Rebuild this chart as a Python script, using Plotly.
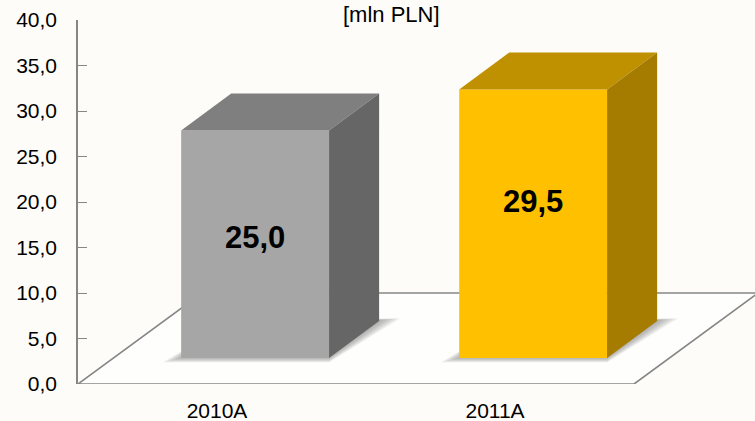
import plotly.graph_objects as go

categories = ["2010A", "2011A"]
values = [25.0, 29.5]
front_colors = ["#A6A6A6", "#FFC000"]
top_colors = ["#7F7F7F", "#BF9000"]
side_colors = ["#666666", "#A67C00"]
y_ticks = [0, 5, 10, 15, 20, 25, 30, 35, 40]
label_heights = [15.8, 19.7]

# geometry of the fake 3-D box, in axis units
BAR_W = 0.532
BAR_OFF = 0.137
BASE = 2.86
DX, DY = 0.18, 4.07
FLOOR_DX, FLOOR_DY = 0.446, 10.0
GREY = "#868686"

cat_x = list(range(len(categories)))
fig = go.Figure()

fig.add_bar(x=[c + BAR_OFF for c in cat_x], y=values, base=BASE, width=BAR_W,
            marker=dict(color=front_colors, line_width=0), showlegend=False, hoverinfo="skip")

def poly(xs, ys, color):
    fig.add_scatter(x=xs + xs[:1], y=ys + ys[:1], mode="lines", fill="toself",
                    fillcolor=color, line=dict(width=0), showlegend=False, hoverinfo="skip")

shapes = []
def path(xs, ys):
    return "M" + "L".join(f"{x:.4f},{y:.4f}" for x, y in zip(xs, ys)) + "Z"

# floor
fx = [-0.5, 1.5, 1.5 + FLOOR_DX, -0.5 + FLOOR_DX]
fy = [0, 0, FLOOR_DY, FLOOR_DY]
shapes.append(dict(type="path", path=path(fx, fy), xref="x", yref="y", layer="below",
                   fillcolor="#FEFEFC", line=dict(color=GREY, width=1.6)))

for c, v, tc, sc in zip(cat_x, values, top_colors, side_colors):
    l = c + BAR_OFF - BAR_W / 2
    r = c + BAR_OFF + BAR_W / 2
    t = BASE + v
    # soft floor shadow: layered translucent parallelograms
    for i in range(10):
        g = i * 0.0075
        h = i * 0.055
        sx = [l - g, r, r + DX + 0.01 + g, l + DX]
        sy = [BASE - h, BASE - h, BASE + DY + 0.1 + h * 0.4, BASE + DY]
        shapes.append(dict(type="path", path=path(sx, sy), xref="x", yref="y", layer="below",
                           fillcolor="rgba(120,120,120,0.07)", line=dict(width=0)))
    poly([l, r, r + DX, l + DX], [t, t, t + DY, t + DY], tc)
    poly([r, r + DX, r + DX, r], [BASE, BASE + DY, t + DY, t], sc)

fig.add_scatter(x=[c + BAR_OFF for c in cat_x], y=label_heights, mode="text",
                text=[f"{v:.1f}".replace(".", ",") for v in values],
                textfont=dict(family="Liberation Sans", size=31, color="#000000"),
                texttemplate="<b>%{text}</b>", textposition="middle center",
                showlegend=False, hoverinfo="skip")

fig.update_layout(
    width=755, height=421, margin=dict(l=78, r=0, t=20, b=37),
    paper_bgcolor="#FEFCF8", plot_bgcolor="rgba(0,0,0,0)", separators=", ",
    font=dict(family="Liberation Sans", color="#000000"),
    shapes=shapes, barmode="overlay",
    xaxis=dict(range=[-0.5, 1.935], tickvals=cat_x, ticktext=categories, showgrid=False,
               zeroline=False, showline=False, ticks="", tickfont=dict(size=21),
               ticklabelstandoff=12, fixedrange=True, automargin=False),
    yaxis=dict(range=[0, 40], tickvals=y_ticks, tickformat=".1f", showgrid=False, zeroline=False,
               showline=True, linecolor=GREY, linewidth=1.6, ticks="inside", ticklen=9,
               tickcolor=GREY, tickwidth=1.4, tickfont=dict(size=21), ticklabelstandoff=15,
               fixedrange=True, automargin=False),
    annotations=[dict(text="[mln PLN]", xref="paper", yref="paper", x=0.463, y=1.0,
                      xanchor="center", yanchor="middle", yshift=6, showarrow=False,
                      font=dict(size=22))],
)
fig.write_html("out.html", config=dict(displayModeBar=False),
               post_script="document.documentElement.style.margin='0';document.body.style.margin='0';document.body.style.overflow='hidden';document.body.style.background='#FEFCF8';")
